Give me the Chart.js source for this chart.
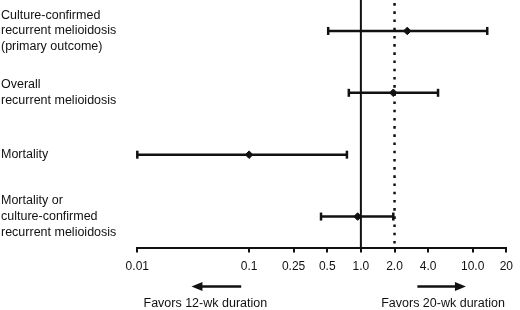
<!DOCTYPE html>
<html>
<head>
<meta charset="utf-8">
<script src="https://cdn.jsdelivr.net/npm/chart.js"></script>
<style>
  html, body { margin: 0; padding: 0; background: #fff; }
  #wrap { width: 520px; height: 310px; }
</style>
</head>
<body>
<div id="wrap"><canvas id="forest"></canvas></div>
<script>
// outcomes, top to bottom
const rowLabels = [
  ['Culture-confirmed', 'recurrent melioidosis', '(primary outcome)'],
  ['Overall', 'recurrent melioidosis'],
  ['Mortality'],
  ['Mortality or', 'culture-confirmed', 'recurrent melioidosis']
];
const estimates = [2.6, 1.95, 0.1, 0.935];
const lower = [0.51, 0.78, 0.01, 0.44];
const upper = [13.5, 4.9, 0.75, 1.95];

const tickValues = [0.01, 0.1, 0.25, 0.5, 1, 2, 4, 10, 20];
const tickLabels = ['0.01', '0.1', '0.25', '0.5', '1.0', '2.0', '4.0', '10.0', '20'];

// arrow spans and caption centres below the axis (in axis units)
const leftArrow = [0.085, 0.0305];
const rightArrow = [3.2, 8.7];
const captions = [['Favors 12-wk duration', 0.0406], ['Favors 20-wk duration', 5.43]];

const ink = '#111';
const fontFamily = "'Liberation Sans', Arial, sans-serif";

const datasets = [];

// no-effect line at 1.0 and dotted line at 2.0
datasets.push({
  type: 'line', data: [{ x: 1, y: 0.5 }, { x: 1, y: 4.5 }],
  borderColor: ink, borderWidth: 2, pointRadius: 0, clip: false
});
datasets.push({
  type: 'line', data: [{ x: 2, y: 0.55 }, { x: 2, y: 4.5 }],
  borderColor: ink, borderWidth: 2.5, borderDash: [2.6, 5.6], pointRadius: 0, clip: false
});

// confidence intervals with end caps
estimates.forEach((e, i) => {
  datasets.push({
    type: 'line',
    data: [{ x: lower[i], y: i + 1 }, { x: upper[i], y: i + 1 }],
    borderColor: ink, borderWidth: 2.5,
    pointStyle: 'line', pointRotation: 90, pointRadius: 4,
    pointBorderWidth: 2.5, pointBorderColor: ink,
    clip: false
  });
});

// point estimates
datasets.push({
  type: 'scatter',
  data: estimates.map((e, i) => ({ x: e, y: i + 1 })),
  pointStyle: 'rectRot', pointRadius: 3.8,
  backgroundColor: ink, borderColor: ink, borderWidth: 1,
  clip: false
});

const belowAxis = {
  id: 'belowAxis',
  afterDraw(chart) {
    const ctx = chart.ctx;
    const x = chart.scales.x;
    const base = chart.chartArea.bottom;
    const ay = base + 39;
    ctx.save();
    ctx.strokeStyle = ink;
    ctx.fillStyle = ink;
    ctx.lineWidth = 2.5;
    [leftArrow, rightArrow].forEach(([from, to]) => {
      const x0 = x.getPixelForValue(from);
      const x1 = x.getPixelForValue(to);
      const dir = Math.sign(x1 - x0);
      ctx.beginPath();
      ctx.moveTo(x0, ay);
      ctx.lineTo(x1 - dir * 8, ay);
      ctx.stroke();
      ctx.beginPath();
      ctx.moveTo(x1, ay);
      ctx.lineTo(x1 - dir * 11, ay - 4.5);
      ctx.lineTo(x1 - dir * 11, ay + 4.5);
      ctx.closePath();
      ctx.fill();
    });
    ctx.font = '12.5px ' + fontFamily;
    ctx.textAlign = 'center';
    ctx.textBaseline = 'middle';
    captions.forEach(([txt, v]) => {
      ctx.fillText(txt, x.getPixelForValue(v), base + 56);
    });
    ctx.restore();
  }
};

new Chart('forest', {
  type: 'scatter',
  data: { datasets },
  options: {
    responsive: true,
    maintainAspectRatio: false,
    animation: false,
    layout: { autoPadding: false, padding: { left: 1, right: 11.7, top: 0, bottom: 0 } },
    plugins: { legend: { display: false }, tooltip: { enabled: false } },
    scales: {
      x: {
        type: 'logarithmic',
        min: 0.01,
        max: 20,
        afterBuildTicks: (s) => { s.ticks = tickValues.map(v => ({ value: v })); },
        afterFit: (s) => { s.height = 62.5; },
        ticks: {
          autoSkip: false,
          maxRotation: 0,
          padding: 7,
          color: ink,
          font: { family: fontFamily, size: 12 },
          callback: (v) => tickLabels[tickValues.indexOf(v)]
        },
        grid: {
          display: true, drawOnChartArea: false, drawTicks: true,
          tickLength: 5, color: ink, lineWidth: 2
        },
        border: { display: true, color: ink, width: 2 }
      },
      y: {
        type: 'linear',
        reverse: true,
        min: 0.5,
        max: 4.5,
        afterBuildTicks: (s) => { s.ticks = rowLabels.map((l, i) => ({ value: i + 1 })); },
        afterFit: (s) => { s.width = 136.3; s.paddingTop = 0; s.paddingBottom = 0; },
        ticks: {
          crossAlign: 'far',
          color: ink,
          font: { family: fontFamily, size: 12.5, lineHeight: 1.25 },
          callback: (v) => rowLabels[v - 1]
        },
        grid: { display: false },
        border: { display: false }
      }
    }
  },
  plugins: [belowAxis]
});
</script>
</body>
</html>
